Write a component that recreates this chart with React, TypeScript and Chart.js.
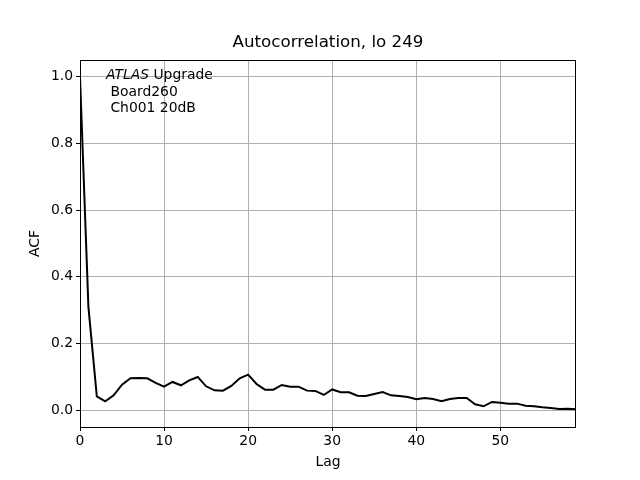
import React, { useEffect, useRef } from "react";
import { Chart, registerables } from "chart.js";

Chart.register(...registerables);

const lags: number[] = Array.from({ length: 60 }, (_, i) => i);
const acf: number[] = [
  1.0, 0.31, 0.042, 0.027, 0.045, 0.077, 0.096, 0.097, 0.096, 0.082,
  0.071, 0.085, 0.075, 0.09, 0.1, 0.072, 0.06, 0.059, 0.073, 0.096,
  0.107, 0.079, 0.062, 0.062, 0.076, 0.071, 0.071, 0.059, 0.058, 0.046,
  0.0625, 0.054, 0.054, 0.044, 0.043, 0.049, 0.055, 0.045, 0.043, 0.04,
  0.033, 0.037, 0.034, 0.027, 0.034, 0.037, 0.037, 0.018, 0.012, 0.025,
  0.023, 0.02, 0.02, 0.014, 0.012, 0.009, 0.007, 0.004, 0.005, 0.003,
];
const xTicks: number[] = [0, 10, 20, 30, 40, 50];
const yTicks: number[] = [0, 0.2, 0.4, 0.6, 0.8, 1.0];
const titleText = "Autocorrelation, lo 249";
const xLabel = "Lag";
const yLabel = "ACF";
const annotationLines: string[] = [" Board260", " Ch001 20dB"];

const FONT = "'DejaVu Sans', sans-serif";

export default function App() {
  const ref = useRef<HTMLCanvasElement | null>(null);
  useEffect(() => {
    document.body.style.margin = "0";
    const canvas = ref.current;
    if (!canvas) return;
    const textPlugin = {
      id: "textPlugin",
      afterDraw(chart: any) {
        const ctx = chart.ctx as CanvasRenderingContext2D;
        const a = chart.chartArea;
        ctx.save();
        // frame
        ctx.strokeStyle = "#000";
        ctx.lineWidth = 1;
        ctx.strokeRect(Math.round(a.left) + 0.5, Math.round(a.top) + 0.5,
          Math.round(a.right) - Math.round(a.left) - 1, Math.round(a.bottom) - Math.round(a.top));
        ctx.fillStyle = "#000";
        // title
        ctx.font = `16.7px ${FONT}`;
        ctx.textAlign = "center";
        ctx.textBaseline = "middle";
        const cx = (a.left + a.right) / 2;
        ctx.fillText(titleText, cx, 43);
        // axis labels
        ctx.font = `13.9px ${FONT}`;
        ctx.fillText(xLabel, cx, 462);
        ctx.save();
        ctx.translate(35, (a.top + a.bottom) / 2);
        ctx.rotate(-Math.PI / 2);
        ctx.fillText(yLabel, 0, 0);
        ctx.restore();
        // annotation
        ctx.textAlign = "left";
        ctx.textBaseline = "middle";
        const x0 = 106;
        ctx.font = `italic 13.9px ${FONT}`;
        ctx.fillText("ATLAS", x0, 75);
        const w = ctx.measureText("ATLAS").width;
        ctx.font = `13.9px ${FONT}`;
        ctx.fillText(" Upgrade", x0 + w, 75);
        annotationLines.forEach((line, i) => {
          ctx.fillText(line, x0, 92 + i * 16.5);
        });
        ctx.restore();
      },
    };
    const chart = new Chart(canvas, {
      type: "line",
      data: {
        labels: lags,
        datasets: [
          {
            data: lags.map((l, i) => ({ x: l, y: acf[i] })),
            borderColor: "#000",
            borderWidth: 2,
            pointRadius: 0,
            tension: 0,
            fill: false,
          },
        ],
      },
      options: {
        animation: false,
        responsive: false,
        layout: { padding: { top: 60, right: 64, left: 0, bottom: 0 } },
        plugins: { legend: { display: false }, title: { display: false }, tooltip: { enabled: false } },
        scales: {
          x: {
            type: "linear",
            min: 0,
            max: 59,
            afterBuildTicks: (s: any) => {
              s.ticks = xTicks.map((v) => ({ value: v }));
            },
            afterFit: (s: any) => {
              s.height = 53;
            },
            ticks: {
              color: "#000",
              font: { family: FONT, size: 13.9 },
              padding: 2,
              maxRotation: 0,
              callback: (v: any) => String(v),
            },
            grid: { color: "#b0b0b0", lineWidth: 1, tickColor: "#000", tickLength: 4, drawTicks: true },
            border: { display: false },
          },
          y: {
            type: "linear",
            min: -0.05,
            max: 1.05,
            afterBuildTicks: (s: any) => {
              s.ticks = yTicks.map((v) => ({ value: v }));
            },
            afterFit: (s: any) => {
              s.width = 80;
            },
            ticks: {
              color: "#000",
              font: { family: FONT, size: 13.9 },
              padding: 3,
              callback: (v: any) => Number(v).toFixed(1),
            },
            grid: { color: "#b0b0b0", lineWidth: 1, tickColor: "#000", tickLength: 4, drawTicks: true },
            border: { display: false },
          },
        },
      },
      plugins: [textPlugin],
    } as any);
    return () => chart.destroy();
  }, []);
  return <canvas ref={ref} width={640} height={480} style={{ display: "block" }} />;
}
